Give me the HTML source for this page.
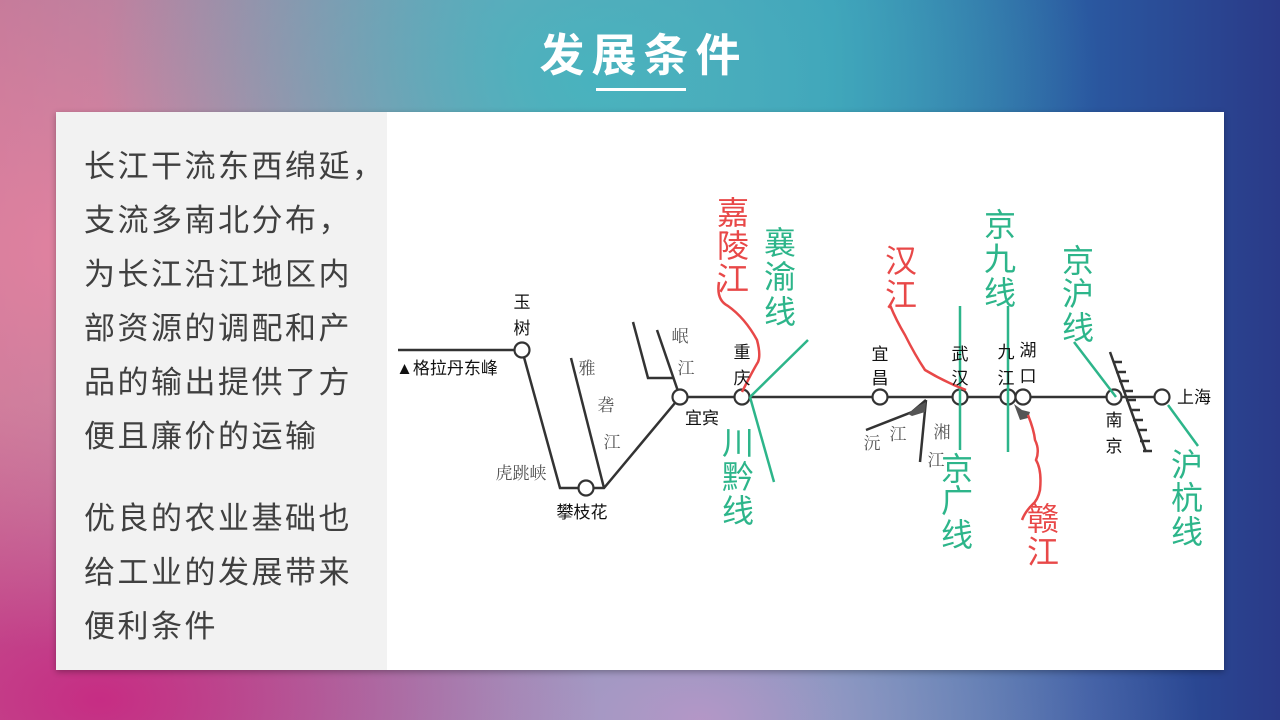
<!DOCTYPE html>
<html><head><meta charset="utf-8"><style>
html,body{margin:0;padding:0}
body{width:1280px;height:720px;position:relative;overflow:hidden;font-family:"Liberation Sans","Noto Sans CJK SC",sans-serif;
background:
radial-gradient(ellipse 500px 350px at 600px 80px, rgba(70,180,190,0.95), rgba(70,180,190,0) 100%),
radial-gradient(ellipse 500px 400px at 80px 250px, rgba(230,130,160,0.9), rgba(230,130,160,0) 100%),
radial-gradient(ellipse 500px 300px at 100px 700px, rgba(200,40,130,0.95), rgba(200,40,130,0) 100%),
radial-gradient(ellipse 500px 300px at 700px 720px, rgba(190,150,200,0.9), rgba(190,150,200,0) 100%),
linear-gradient(90deg,#b87898 0%,#7aa0b8 40%,#3a9ab8 65%,#2a58a0 85%,#2a3a88 100%);}
.title{position:absolute;left:0;width:1280px;top:28px;text-align:center;color:#fff;font-size:45px;font-weight:bold;letter-spacing:7px;text-indent:7px;line-height:56px}
.ul{position:absolute;left:596px;top:88px;width:90px;height:3px;background:#fff}
.card{position:absolute;left:56px;top:112px;width:1168px;height:558px;background:#fff;box-shadow:0 2px 6px rgba(0,0,0,0.3)}
.left{position:absolute;left:0;top:0;width:331px;height:558px;background:#f2f2f2}
.txt{position:absolute;left:28px;color:#404040;font-size:31px;letter-spacing:2.5px;line-height:54px;width:330px;white-space:nowrap}
</style></head><body>
<div class="title">发展条件</div><div class="ul"></div>
<div class="card"><div class="left">
<div class="txt" style="top:28px">长江干流东西绵延，<br>支流多南北分布，<br>为长江沿江地区内<br>部资源的调配和产<br>品的输出提供了方<br>便且廉价的运输</div>
<div class="txt" style="top:380px">优良的农业基础也<br>给工业的发展带来<br>便利条件</div>
</div></div>
<svg width="1280" height="720" style="position:absolute;left:0;top:0" font-family="Liberation Sans,Noto Sans CJK SC,sans-serif">
<g fill="none" stroke="#333" stroke-width="2.5">
<polyline points="398,350 522,350"/>
<polyline points="522,350 560,488 604,488 680,397 1162,397"/>
<polyline points="571,358 604,488"/>
<polyline points="633,322 648,378 673,378"/>
<polyline points="657,330 680,397"/>
<polyline points="866,430 912,412 926,400"/>
<polyline points="926,400 920,462"/>
<line x1="1110" y1="352" x2="1146" y2="452"/>
</g>
<path d="M908,414 L918,406 L926,402 L925,412 L912,416 Z" fill="#555"/>
<path d="M1014,404 L1022,410 L1030,412 L1028,418 L1020,420 Z" fill="#555"/>
<g stroke="#333" stroke-width="2.5">
<line x1="1113" y1="362" x2="1122" y2="362"/><line x1="1116" y1="372" x2="1126" y2="372"/><line x1="1119" y1="381" x2="1129" y2="381"/><line x1="1123" y1="391" x2="1133" y2="391"/><line x1="1126" y1="400" x2="1136" y2="400"/><line x1="1130" y1="410" x2="1140" y2="410"/><line x1="1133" y1="420" x2="1143" y2="420"/><line x1="1137" y1="430" x2="1147" y2="430"/><line x1="1140" y1="441" x2="1150" y2="441"/><line x1="1143" y1="451" x2="1152" y2="451"/>
</g>
<g fill="#fff" stroke="#333" stroke-width="2.2">
<circle cx="522" cy="350" r="7.5"/><circle cx="586" cy="488" r="7.5"/><circle cx="680" cy="397" r="7.5"/><circle cx="742" cy="397" r="7.5"/><circle cx="880" cy="397" r="7.5"/><circle cx="960" cy="397" r="7.5"/><circle cx="1008" cy="397" r="7.5"/><circle cx="1023" cy="397" r="7.5"/><circle cx="1114" cy="397" r="7.5"/><circle cx="1162" cy="397" r="7.5"/>
</g>
<g stroke="#2db58a" stroke-width="2.5" fill="none">
<line x1="808" y1="340" x2="750" y2="397"/><line x1="750" y1="397" x2="774" y2="482"/>
<line x1="960" y1="306" x2="960" y2="450"/><line x1="1008" y1="306" x2="1008" y2="452"/>
<line x1="1074" y1="342" x2="1116" y2="397"/><line x1="1168" y1="405" x2="1198" y2="446"/>
</g>
<g stroke="#e84848" stroke-width="2.5" fill="none">
<path d="M719,282 Q716,300 728,306 Q745,318 757,340 Q761,355 758,362 Q752,372 742,392"/>
<path d="M890,305 Q896,320 905,335 Q915,355 925,370 Q945,382 966,390"/>
<path d="M1028,415 Q1034,430 1035,440 Q1040,450 1036,460 Q1042,470 1040,490 Q1038,500 1032,505 Q1025,512 1022,520"/>
</g>
<g font-size="17" fill="#111" text-anchor="middle">
<text x="522" y="308">玉</text><text x="522" y="334">树</text>
<text x="447" y="374">▲格拉丹东峰</text>
<text x="582" y="518">攀枝花</text>
<text x="702" y="424">宜宾</text>
<text x="742" y="358">重</text><text x="742" y="384">庆</text>
<text x="880" y="360">宜</text><text x="880" y="384">昌</text>
<text x="960" y="360">武</text><text x="960" y="384">汉</text>
<text x="1006" y="358">九</text><text x="1006" y="384">江</text>
<text x="1028" y="356">湖</text><text x="1028" y="382">口</text>
<text x="1114" y="426">南</text><text x="1114" y="452">京</text>
<text x="1194" y="403">上海</text>
</g>
<g font-size="17" fill="#555" text-anchor="middle" font-family="Liberation Serif,Noto Serif CJK SC,serif">
<text x="521" y="479">虎跳峡</text>
<text x="587" y="374">雅</text><text x="606" y="411">砻</text><text x="612" y="448">江</text>
<text x="680" y="342">岷</text><text x="686" y="374">江</text>
<text x="872" y="449">沅</text><text x="898" y="440">江</text>
<text x="942" y="438">湘</text><text x="936" y="466">江</text>
</g>
<g font-size="32" fill="#2db58a" text-anchor="middle">
<text x="780" y="254">襄</text><text x="780" y="288">渝</text><text x="780" y="323">线</text>
<text x="738" y="454">川</text><text x="738" y="488">黔</text><text x="738" y="522">线</text>
<text x="957" y="480">京</text><text x="957" y="512">广</text><text x="957" y="546">线</text>
<text x="1000" y="236">京</text><text x="1000" y="270">九</text><text x="1000" y="304">线</text>
<text x="1078" y="272">京</text><text x="1078" y="305">沪</text><text x="1078" y="339">线</text>
<text x="1187" y="476">沪</text><text x="1187" y="509">杭</text><text x="1187" y="543">线</text>
</g>
<g font-size="32" fill="#e84848" text-anchor="middle">
<text x="733" y="224">嘉</text><text x="733" y="257">陵</text><text x="733" y="290">江</text>
<text x="901" y="272">汉</text><text x="901" y="306">江</text>
<text x="1043" y="530">赣</text><text x="1043" y="563">江</text>
</g>
</svg>
</body></html>
